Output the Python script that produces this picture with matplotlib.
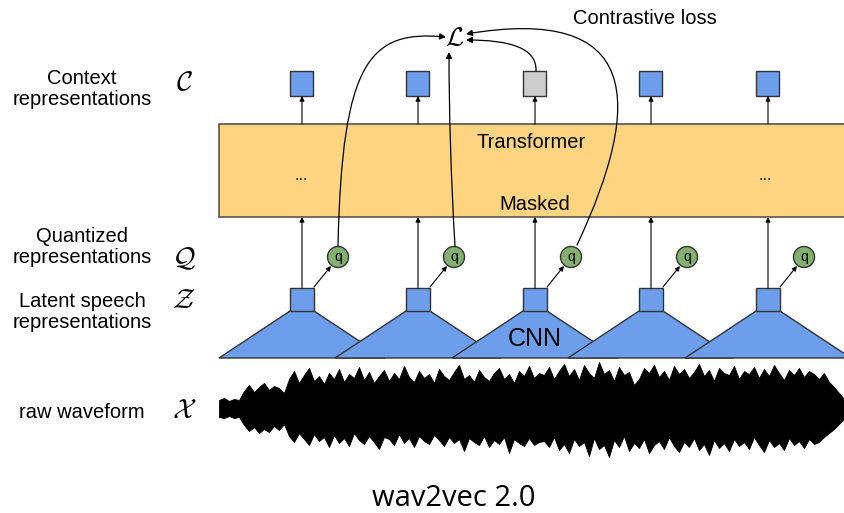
import matplotlib.pyplot as plt
from matplotlib.patches import Rectangle, Polygon, Circle, FancyArrowPatch
from matplotlib.path import Path

plt.rcParams['mathtext.fontset'] = 'cm'
plt.rcParams['font.family'] = ['Liberation Sans', 'DejaVu Sans']

# column centres (pixels) and colours of the context vectors
col_x = [302, 418, 535, 651, 768]
context_colors = ['#6D9EEB', '#6D9EEB', '#CCCCCC', '#6D9EEB', '#6D9EEB']

row_labels = ['Context\nrepresentations', 'Quantized\nrepresentations',
              'Latent speech\nrepresentations', 'raw waveform']
row_symbols = [r'$\mathcal{C}$', r'$\mathcal{Q}$', r'$\mathcal{Z}$', r'$\mathcal{X}$']
row_y = [89, 247, 312, 412]
symbol_y = [83, 259, 301, 411]

# waveform envelope (pixels above / below centre line)
wave_x = list(range(219, 845, 5))
wave_top = [9, 11, 8, 10, 9,
            18, 24, 17, 22, 26, 19, 23, 21, 16,
            30, 38, 26, 34, 41, 28, 33, 25, 36, 30,
            40, 27, 35, 31, 42, 29, 37, 26, 33, 39,
            28, 36, 30, 43, 32, 27, 38, 31, 35, 26,
            40, 33, 29, 37, 44, 30, 34, 27, 39, 32,
            28, 36, 41, 30, 35, 26, 38, 33, 43, 31, 36,
            34, 42, 30, 38, 45, 33, 40, 29, 44, 36,
            31, 47, 35, 39, 28, 42, 34, 37, 24, 30,
            41, 36, 44, 32, 38, 29, 43, 35, 40, 31,
            37, 45, 33, 39, 28, 41, 36, 34, 43, 30,
            38, 35, 42, 31, 40, 33, 44, 36, 29, 39,
            34, 41, 32, 38, 35, 30, 36, 27, 22, 16,
            10]
wave_bot = [8, 9, 7, 9, 8,
            16, 22, 18, 24, 20, 23, 17, 21, 15,
            27, 33, 24, 30, 36, 25, 32, 28, 38, 26,
            34, 29, 37, 24, 31, 35, 27, 33, 40, 28,
            30, 36, 25, 34, 29, 38, 27, 32, 35, 26,
            31, 37, 28, 34, 30, 42, 29, 33, 36, 27,
            38, 31, 35, 28, 44, 30, 34, 37, 29, 36, 33,
            32, 38, 28, 41, 35, 44, 30, 37, 33, 47,
            29, 40, 36, 48, 31, 38, 27, 42, 34, 39,
            30, 44, 36, 32, 40, 28, 37, 43, 33, 38,
            29, 41, 35, 46, 31, 39, 34, 42, 30, 37,
            33, 40, 28, 36, 43, 31, 38, 34, 41, 29,
            36, 32, 39, 30, 35, 33, 28, 24, 20, 15,
            10]

blue = '#6D9EEB'
edge = '#333333'
wave_c = 409

fig = plt.figure(figsize=(8.45, 5.13), dpi=100)
ax = fig.add_axes([0, 0, 1, 1])
ax.set_xlim(0, 845)
ax.set_ylim(513, 0)
ax.axis('off')


def arrow(x0, y0, x1, y1, ms=7):
    ax.add_patch(FancyArrowPatch((x0, y0), (x1, y1), arrowstyle='-|>',
                                 mutation_scale=ms, lw=0.8, color='black',
                                 shrinkA=0, shrinkB=0, zorder=6))


def curve(pts):
    p = Path(pts, [Path.MOVETO, Path.CURVE4, Path.CURVE4, Path.CURVE4])
    ax.add_patch(FancyArrowPatch(path=p, arrowstyle='-|>', mutation_scale=9,
                                 lw=0.9, color='black', zorder=7))


# transformer block
ax.add_patch(Rectangle((219, 124), 640, 93, fc='#FDD47F', ec='#555555',
                       lw=1.2, zorder=2))
ax.text(531, 142, 'Transformer', ha='center', va='center', fontsize=14.5, zorder=3)
ax.text(535, 204, 'Masked', ha='center', va='center', fontsize=14.5, zorder=3)
ax.text(301, 176, '...', ha='center', va='center', fontsize=12, zorder=3)
ax.text(765, 176, '...', ha='center', va='center', fontsize=12, zorder=3)

for i, cx in enumerate(col_x):
    # CNN feature encoder
    ax.add_patch(Polygon([(cx - 12, 311), (cx + 12, 311), (cx + 83, 358),
                          (cx - 83, 358)], closed=True, fc=blue, ec=edge,
                         lw=1, zorder=3 + i * 0.01))
    # latent vector
    ax.add_patch(Rectangle((cx - 12, 288), 24, 23, fc=blue, ec=edge, lw=1,
                           zorder=4))
    arrow(cx, 288, cx, 217)
    # quantizer
    ax.add_patch(Circle((cx + 36, 257), 10.5, fc='#84B06F', ec=edge, lw=1,
                        zorder=5))
    ax.text(cx + 36, 257, 'q', ha='center', va='center', fontsize=10, zorder=6)
    arrow(cx + 12, 287, cx + 29, 266)
    # context vector
    ax.add_patch(Rectangle((cx - 11.5, 71), 23, 25, fc=context_colors[i],
                           ec=edge, lw=1, zorder=4))
    arrow(cx, 124, cx, 96)

ax.text(535, 339, 'CNN', ha='center', va='center', fontsize=18, zorder=5)

# contrastive loss
ax.text(455, 38, r'$\mathcal{L}$', ha='center', va='center', fontsize=19, zorder=8)
ax.text(645, 18, 'Contrastive loss', ha='center', va='center', fontsize=14.5)
curve([(338, 246), (342, 60), (370, 30), (446, 37)])
curve([(455, 246), (451, 180), (449, 110), (449, 52)])
curve([(577, 245), (645, 100), (640, 5), (466, 34)])
curve([(536, 71), (537, 48), (510, 40), (466, 40)])

# waveform
ax.fill_between(wave_x, [wave_c - t for t in wave_top],
                [wave_c + b for b in wave_bot], color='black', lw=0.6, zorder=3)

for lab, y in zip(row_labels, row_y):
    ax.text(82, y, lab, ha='center', va='center', fontsize=14.5, linespacing=1.15)
for sym, y in zip(row_symbols, symbol_y):
    ax.text(184, y, sym, ha='center', va='center', fontsize=20)

ax.text(454, 499, 'wav2vec 2.0', ha='center', va='center', fontsize=21,
        family=['Open Sans', 'DejaVu Sans'])

fig.savefig('out.png', dpi=100)
